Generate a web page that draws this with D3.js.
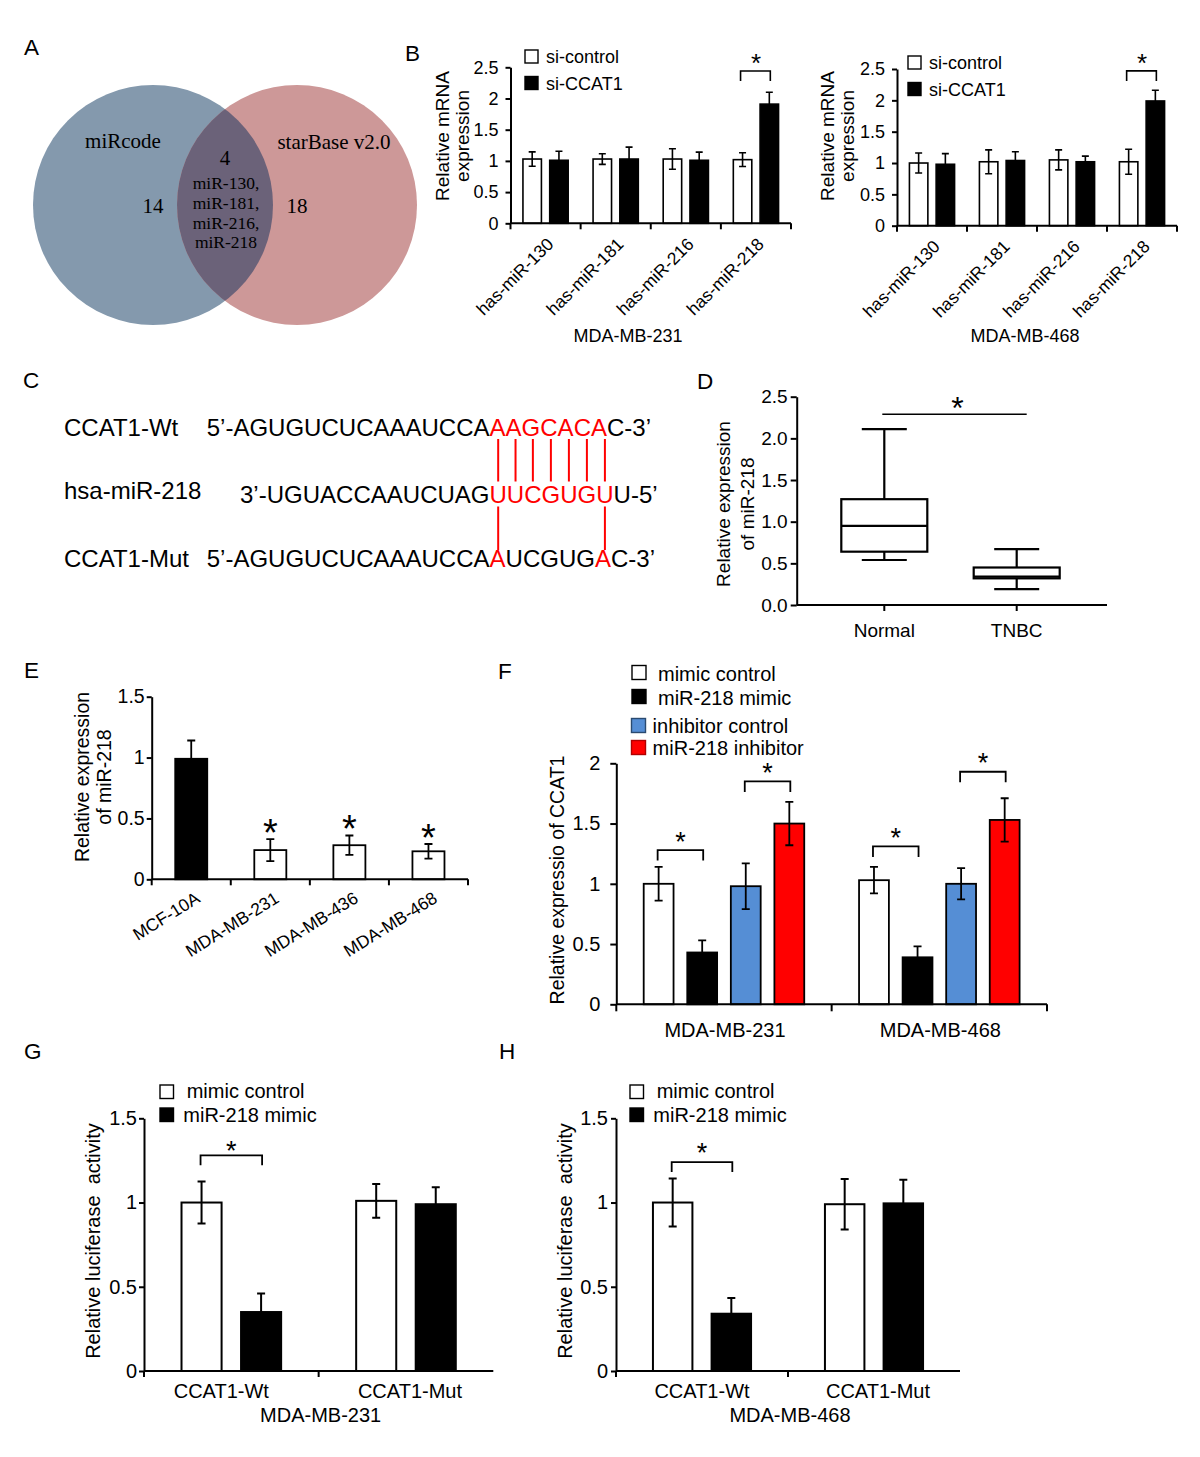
<!DOCTYPE html>
<html><head><meta charset="utf-8">
<script src="https://cdnjs.cloudflare.com/ajax/libs/d3/7.8.5/d3.min.js"></script>
<style>
html,body{margin:0;padding:0;background:#fff;}
svg text{fill:#000;}
</style></head><body>
<svg id="fig" width="1200" height="1457" xmlns="http://www.w3.org/2000/svg"></svg>
<script>
// ================= DATA =================
const panelLetters = ["A","B","C","D","E","F","G","H"];

// Panel A (Venn)
const vennSets = ["miRcode", "starBase v2.0"];
const vennOnly = [14, 18];
const vennShared = 4;
const vennSharedNames = ["miR-130,", "miR-181,", "miR-216,", "miR-218"];

// Panel B
const bCategories = ["has-miR-130", "has-miR-181", "has-miR-216", "has-miR-218"];
const bSeries = ["si-control", "si-CCAT1"];
const bTicks = [0, 0.5, 1, 1.5, 2, 2.5];
const b231Control = [1.03, 1.03, 1.03, 1.02];
const b231ControlErr = [0.115, 0.085, 0.165, 0.11];
const b231Si = [1.01, 1.03, 1.01, 1.91];
const b231SiErr = [0.145, 0.19, 0.13, 0.19];
const b468Control = [1.00, 1.02, 1.05, 1.02];
const b468ControlErr = [0.16, 0.19, 0.16, 0.20];
const b468Si = [0.98, 1.04, 1.02, 1.99];
const b468SiErr = [0.17, 0.14, 0.09, 0.17];
const bSigCategory = "has-miR-218";
const bBracketLevels = [2.44, 2.47];
const bCellLines = ["MDA-MB-231", "MDA-MB-468"];

// Panel C
const cRowLabels = ["CCAT1-Wt", "hsa-miR-218", "CCAT1-Mut"];
const cSequences = ["5’-AGUGUCUCAAAUCCAAAGCACAC-3’", "3’-UGUACCAAUCUAGUUCGUGUU-5’", "5’-AGUGUCUCAAAUCCAAUCGUGAC-3’"];
const cHighlight = [[18,19,20,21,22,23,24], [16,17,18,19,20,21,22], [18,24]];
const cPairsWt = [16,17,18,19,20,21,22];
const cPairsMut = [16,22];

// Panel D (box plot)
const dGroups = ["Normal", "TNBC"];
const dMin = [0.54, 0.19];
const dQ1 = [0.64, 0.32];
const dMedian = [0.95, 0.34];
const dQ3 = [1.27, 0.45];
const dMax = [2.11, 0.67];
const dTicks = [0, 0.5, 1, 1.5, 2, 2.5];
const dSigLevel = 2.29;

// Panel E
const eCells = ["MCF-10A", "MDA-MB-231", "MDA-MB-436", "MDA-MB-468"];
const eValues = [0.99, 0.24, 0.28, 0.23];
const eErr = [0.15, 0.09, 0.08, 0.06];
const eSignificant = [false, true, true, true];
const eTicks = [0, 0.5, 1, 1.5];

// Panel F
const fCells = ["MDA-MB-231", "MDA-MB-468"];
const fSeries = ["mimic control", "miR-218 mimic", "inhibitor control", "miR-218 inhibitor"];
const fValues231 = [1.00, 0.43, 0.98, 1.50];
const fErr231 = [0.14, 0.10, 0.19, 0.18];
const fValues468 = [1.03, 0.39, 1.00, 1.53];
const fErr468 = [0.11, 0.09, 0.13, 0.18];
const fBracketLevels231 = [1.28, 1.85];
const fBracketLevels468 = [1.31, 1.93];
const fTicks = [0, 0.5, 1, 1.5, 2];

// Panels G, H
const ghGroups = ["CCAT1-Wt", "CCAT1-Mut"];
const ghSeries = ["mimic control", "miR-218 mimic"];
const ghTicks = [0, 0.5, 1, 1.5];
const g231Control = [1.00, 1.01];
const g231ControlErr = [0.125, 0.10];
const g231Mimic = [0.35, 0.99];
const g231MimicErr = [0.11, 0.10];
const h468Control = [1.00, 0.99];
const h468ControlErr = [0.143, 0.15];
const h468Mimic = [0.34, 0.995];
const h468MimicErr = [0.093, 0.14];
const ghBracketLevels = [1.28, 1.24];

// ================= STYLE =================
const SANS = '"Liberation Sans", Arial, Helvetica, sans-serif';
const SERIF = '"Liberation Serif", "Times New Roman", serif';
const svg = d3.select("#fig");
svg.append("rect").attr("width", 1200).attr("height", 1457).attr("fill", "#fff");

// ================= HELPERS =================
function txt(g, x, y, s, fs, anchor, family) {
  return g.append("text").attr("x", x).attr("y", y).attr("font-size", fs)
    .attr("font-family", family || SANS).attr("text-anchor", anchor || "start").text(s);
}
function yAxis(g, y, x0, ticks, fmt, fs, size, pad) {
  const ax = d3.axisLeft(y).tickValues(ticks).tickFormat(fmt).tickSize(size).tickPadding(pad).tickSizeOuter(0);
  const a = g.append("g").attr("transform", `translate(${x0},0)`).call(ax);
  a.attr("font-family", SANS).attr("font-size", fs);
  a.select(".domain").attr("stroke", "#000").attr("stroke-width", 2);
  a.selectAll(".tick line").attr("stroke", "#000").attr("stroke-width", 2);
  a.selectAll(".tick text").attr("fill", "#000");
  return a;
}
function xBase(g, x0, x1, y0, tickXs, len) {
  g.append("line").attr("x1", x0).attr("x2", x1).attr("y1", y0).attr("y2", y0)
    .attr("stroke", "#000").attr("stroke-width", 2);
  g.selectAll(null).data(tickXs).enter().append("line")
    .attr("x1", d => d).attr("x2", d => d).attr("y1", y0).attr("y2", y0 + len)
    .attr("stroke", "#000").attr("stroke-width", 2);
}
function errBars(g, data, xc, y, cap, sw) {
  const e = g.append("g").attr("stroke", "#000").attr("stroke-width", sw).attr("fill", "none");
  e.selectAll(null).data(data).enter().append("path")
    .attr("d", d => {
      const cx = xc(d), hi = y(d.v + d.e), lo = y(d.v - d.e);
      return `M${cx},${lo}V${hi}M${cx - cap},${hi}H${cx + cap}M${cx - cap},${lo}H${cx + cap}`;
    });
}
function star(g, cx, cy, fs) {
  g.append("text").attr("x", cx).attr("y", cy + 0.575 * fs).attr("text-anchor", "middle")
    .attr("font-family", SANS).attr("font-size", fs).text("*");
}
function bracket(g, xa, xb, yTop, leg, sw) {
  g.append("path").attr("d", `M${xa},${yTop + leg}V${yTop}H${xb}V${yTop + leg}`)
    .attr("fill", "none").attr("stroke", "#000").attr("stroke-width", sw);
}
function vTitle(g, cx, cy, lines, fs, gap) {
  const t = g.append("text").attr("transform", `translate(${cx},${cy}) rotate(-90)`)
    .attr("font-family", SANS).attr("font-size", fs).attr("text-anchor", "middle").style("white-space", "pre");
  lines.forEach((l, i) => t.append("tspan").attr("x", 0).attr("y", i * gap).attr("dy", "0.35em").text(l));
}

// ================= PANEL LETTERS =================
const letterPos = [[24, 55], [405, 61], [23, 388], [697, 389], [24, 678], [498, 679], [24, 1059], [499, 1059]];
panelLetters.forEach((L, i) => txt(svg, letterPos[i][0], letterPos[i][1], L, 22.5));

// ================= PANEL A =================
(function () {
  const g = svg.append("g");
  const R = 120, cy = 205, c1 = 153, c2 = 297;
  g.append("defs").append("clipPath").attr("id", "clipBlue")
    .append("circle").attr("cx", c1).attr("cy", cy).attr("r", R);
  g.append("circle").attr("cx", c1).attr("cy", cy).attr("r", R).attr("fill", "#8499ad");
  g.append("circle").attr("cx", c2).attr("cy", cy).attr("r", R).attr("fill", "#cd9898");
  g.append("circle").attr("cx", c2).attr("cy", cy).attr("r", R).attr("fill", "#6b6279").attr("clip-path", "url(#clipBlue)");
  const mid = (c1 + c2) / 2;
  txt(g, c1 - 30, 148, vennSets[0], 21, "middle", SERIF);
  txt(g, c2 + 37, 149, vennSets[1], 21, "middle", SERIF);
  txt(g, c1, 213, String(vennOnly[0]), 21, "middle", SERIF);
  txt(g, c2, 213, String(vennOnly[1]), 21, "middle", SERIF);
  txt(g, mid, 165, String(vennShared), 21, "middle", SERIF);
  vennSharedNames.forEach((n, i) => txt(g, mid + 1, 189 + i * 19.8, n, 17.5, "middle", SERIF));
})();

// ================= PANEL B =================
function drawB(cfg) {
  const g = svg.append("g");
  const x = d3.scaleBand().domain(bCategories).range([cfg.x0, cfg.x1]);
  const xi = d3.scaleBand().domain(bSeries).range([0, x.bandwidth()]).paddingInner(0.31).paddingOuter(0.465);
  const y = d3.scaleLinear().domain([0, 2.5]).range([cfg.y0, cfg.yTop]);
  const rows = bCategories.flatMap((c, i) => [
    { c, s: bSeries[0], v: cfg.ctrl[i], e: cfg.ctrlErr[i] },
    { c, s: bSeries[1], v: cfg.si[i], e: cfg.siErr[i] }]);
  const xc = d => x(d.c) + xi(d.s) + xi.bandwidth() / 2;
  g.selectAll(null).data(rows).enter().append("rect")
    .attr("x", d => x(d.c) + xi(d.s)).attr("y", d => y(d.v))
    .attr("width", xi.bandwidth()).attr("height", d => y(0) - y(d.v))
    .attr("fill", d => d.s === bSeries[0] ? "#fff" : "#000").attr("stroke", "#000").attr("stroke-width", 1.6);
  errBars(g, rows, xc, y, 3.5, 1.6);
  yAxis(g, y, cfg.x0, bTicks, d3.format("~g"), 18, 5, 7);
  xBase(g, cfg.x0, cfg.x1, cfg.y0, bCategories.map(c => x(c)).concat([cfg.x1]), 6);
  bCategories.forEach(c => {
    g.append("text").attr("transform", `translate(${x(c) + x.bandwidth() / 2 + 9},${cfg.y0 + 22}) rotate(-45)`)
      .attr("text-anchor", "end").attr("font-family", SANS).attr("font-size", 17.5).text(c);
  });
  // legend
  bSeries.forEach((s, i) => {
    g.append("rect").attr("x", cfg.lx).attr("y", cfg.ly + i * 26.5).attr("width", 13).attr("height", 13)
      .attr("fill", i === 0 ? "#fff" : "#000").attr("stroke", "#000").attr("stroke-width", 1.4);
    txt(g, cfg.lx + 21, cfg.ly + 13 + i * 26.5, s, 18);
  });
  // significance
  const sig = rows.filter(d => d.c === bSigCategory);
  const top = y(cfg.bracket);
  bracket(g, xc(sig[0]) - 2, xc(sig[1]) + 1, top, 10, 1.6);
  star(g, (xc(sig[0]) + xc(sig[1])) / 2, top - 13.5, 26);
  vTitle(g, cfg.tx, 136, ["Relative mRNA", "expression"], 19, 20);
  txt(g, cfg.cellX, 342, cfg.cell, 18, "middle");
}
drawB({ x0: 510.5, x1: 791, y0: 223.3, yTop: 67.3, ctrl: b231Control, ctrlErr: b231ControlErr, si: b231Si, siErr: b231SiErr,
  bracket: bBracketLevels[0], lx: 525, ly: 50, tx: 442, cell: bCellLines[0], cellX: 628 });
drawB({ x0: 897, x1: 1177, y0: 225.7, yTop: 69, ctrl: b468Control, ctrlErr: b468ControlErr, si: b468Si, siErr: b468SiErr,
  bracket: bBracketLevels[1], lx: 908, ly: 56, tx: 827, cell: bCellLines[1], cellX: 1025 });

// ================= PANEL C =================
(function () {
  const g = svg.append("g");
  const fs = 24;
  const labelBase = [435.7, 499, 566.5];
  const seqBase = [435.7, 503, 567];
  const seqX = [206.7, 240, 206.7];
  const nodes = [];
  cRowLabels.forEach((l, i) => txt(g, 64, labelBase[i], l, fs));
  cSequences.forEach((s, i) => {
    const t = g.append("text").attr("x", seqX[i]).attr("y", seqBase[i]).attr("font-family", SANS).attr("font-size", fs);
    Array.from(s).forEach((ch, k) => t.append("tspan").attr("fill", cHighlight[i].includes(k) ? "#ff0000" : "#000").text(ch));
    nodes.push(t.node());
  });
  const center = (node, k) => (node.getStartPositionOfChar(k).x + node.getEndPositionOfChar(k).x) / 2;
  cPairsWt.forEach(k => {
    const cx = center(nodes[1], k);
    g.append("line").attr("x1", cx).attr("x2", cx).attr("y1", 439).attr("y2", 481.5).attr("stroke", "#ff0000").attr("stroke-width", 2);
  });
  cPairsMut.forEach(k => {
    const cx = center(nodes[1], k);
    g.append("line").attr("x1", cx).attr("x2", cx).attr("y1", 506.5).attr("y2", 550).attr("stroke", "#ff0000").attr("stroke-width", 2);
  });
})();

// ================= PANEL D =================
(function () {
  const g = svg.append("g");
  const x0 = 796.7, x1 = 1107, y0 = 605;
  const y = d3.scaleLinear().domain([0, 2.5]).range([y0, 396.7]);
  const x = d3.scalePoint().domain(dGroups).range([884.3, 1016.7]);
  const boxes = dGroups.map((gname, i) => ({ g: gname, min: dMin[i], q1: dQ1[i], med: dMedian[i], q3: dQ3[i], max: dMax[i] }));
  const bw = 86, cw = 45;
  const b = g.append("g").attr("stroke", "#000").attr("stroke-width", 2.2).attr("fill", "none");
  boxes.forEach(d => {
    const cx = x(d.g);
    b.append("path").attr("d", `M${cx},${y(d.q3)}V${y(d.max)}M${cx - cw / 2},${y(d.max)}H${cx + cw / 2}` +
      `M${cx},${y(d.q1)}V${y(d.min)}M${cx - cw / 2},${y(d.min)}H${cx + cw / 2}`);
    b.append("rect").attr("x", cx - bw / 2).attr("y", y(d.q3)).attr("width", bw).attr("height", y(d.q1) - y(d.q3)).attr("fill", "#fff");
    b.append("line").attr("x1", cx - bw / 2).attr("x2", cx + bw / 2).attr("y1", y(d.med)).attr("y2", y(d.med));
  });
  yAxis(g, y, x0, dTicks, d3.format(".1f"), 19, 6, 3);
  xBase(g, x0, x1, y0, dGroups.map(d => x(d)), 6);
  dGroups.forEach(d => txt(g, x(d), 637, d, 19, "middle"));
  const sy = y(dSigLevel);
  const xa = x(dGroups[0]) - 2, xb = x(dGroups[1]) + 10;
  g.append("line").attr("x1", xa).attr("x2", xb).attr("y1", sy).attr("y2", sy).attr("stroke", "#000").attr("stroke-width", 1.6);
  star(g, (xa + xb) / 2 + 3, sy - 14, 32);
  vTitle(g, 723, 504, ["Relative expression", "of miR-218"], 19, 24);
})();

// ================= PANEL E =================
(function () {
  const g = svg.append("g");
  const x0 = 151.7, x1 = 468, y0 = 879.3;
  const x = d3.scaleBand().domain(eCells).range([x0, x1]).paddingInner(0.595).paddingOuter(0.2975);
  const band = d3.scaleBand().domain(eCells).range([x0, x1]);
  const y = d3.scaleLinear().domain([0, 1.5]).range([y0, 696.7]);
  const rows = eCells.map((c, i) => ({ c, v: eValues[i], e: eErr[i], sig: eSignificant[i] }));
  const xc = d => x(d.c) + x.bandwidth() / 2;
  g.selectAll(null).data(rows).enter().append("rect")
    .attr("x", d => x(d.c)).attr("y", d => y(d.v)).attr("width", x.bandwidth()).attr("height", d => y(0) - y(d.v))
    .attr("fill", (d, i) => i === 0 ? "#000" : "#fff").attr("stroke", "#000").attr("stroke-width", 1.8);
  errBars(g, rows, xc, y, 4, 1.8);
  yAxis(g, y, x0, eTicks, d3.format("~g"), 19.5, 5, 2);
  xBase(g, x0, x1, y0, eCells.map(c => band(c)).concat([x1]), 6);
  eCells.forEach(c => {
    g.append("text").attr("transform", `translate(${band(c) + band.bandwidth() / 2 + 10},${y0 + 22}) rotate(-32)`)
      .attr("text-anchor", "end").attr("font-family", SANS).attr("font-size", 17.5).text(c);
  });
  rows.filter(d => d.sig).forEach(d => star(g, xc(d), y(d.v + d.e) - 15, 38));
  vTitle(g, 81.7, 777, ["Relative expression", "of miR-218"], 19.5, 22);
})();

// ================= PANEL F =================
(function () {
  const g = svg.append("g");
  const x0 = 616.3, x1 = 1047, y0 = 1004.3;
  const colors = ["#ffffff", "#000000", "#558ed5", "#ff0000"];
  const x = d3.scaleBand().domain(fCells).range([x0, x1]);
  const xi = d3.scaleBand().domain(fSeries).range([0, x.bandwidth()]).paddingInner(0.315).paddingOuter(0.629);
  const y = d3.scaleLinear().domain([0, 2]).range([y0, 763.3]);
  const vals = [fValues231, fValues468], errs = [fErr231, fErr468], lev = [fBracketLevels231, fBracketLevels468];
  const rows = fCells.flatMap((c, gi) => fSeries.map((s, si) => ({ c, s, si, v: vals[gi][si], e: errs[gi][si] })));
  const xc = d => x(d.c) + xi(d.s) + xi.bandwidth() / 2;
  g.selectAll(null).data(rows).enter().append("rect")
    .attr("x", d => x(d.c) + xi(d.s)).attr("y", d => y(d.v)).attr("width", xi.bandwidth()).attr("height", d => y(0) - y(d.v))
    .attr("fill", d => colors[d.si]).attr("stroke", "#000").attr("stroke-width", 1.8);
  errBars(g, rows, xc, y, 4, 1.8);
  yAxis(g, y, x0, fTicks, d3.format("~g"), 20, 6, 10);
  xBase(g, x0, x1, y0, [x0, x(fCells[1]), x1], 7);
  fCells.forEach(c => txt(g, x(c) + x.bandwidth() / 2 + 1, 1037, c, 20, "middle"));
  // brackets
  fCells.forEach((c, gi) => {
    [[0, 1], [2, 3]].forEach((p, pi) => {
      const a = rows.find(d => d.c === c && d.si === p[0]), b = rows.find(d => d.c === c && d.si === p[1]);
      const top = y(lev[gi][pi]);
      bracket(g, xc(a) - 1, xc(b) + 1, top, 10.5, 1.8);
      star(g, (xc(a) + xc(b)) / 2, top - 15, 27);
    });
  });
  // legend
  const ly = [665.5, 689.5, 718.5, 740.5];
  const lx = [632, 632, 631.5, 631.5];
  const tx = [658, 658, 652.6, 652.6];
  const tb = [681, 704.5, 733.3, 755.3];
  fSeries.forEach((s, i) => {
    g.append("rect").attr("x", lx[i]).attr("y", ly[i]).attr("width", 14).attr("height", 14)
      .attr("fill", colors[i]).attr("stroke", i === 2 ? "#2a4a70" : (i === 3 ? "#b00000" : "#000")).attr("stroke-width", 1.4);
    txt(g, tx[i], tb[i], s, 20);
  });
  vTitle(g, 557, 880, ["Relative expressio of CCAT1"], 19.5, 0);
})();

// ================= PANELS G & H =================
function drawGH(cfg) {
  const g = svg.append("g");
  const x = d3.scaleBand().domain(ghGroups).range([cfg.x0, cfg.x1]);
  const xi = d3.scaleBand().domain(ghSeries).range([0, x.bandwidth()]).paddingInner(0.327).paddingOuter(0.63);
  const y = d3.scaleLinear().domain([0, 1.5]).range([cfg.y0, cfg.yTop]);
  const rows = ghGroups.flatMap((c, i) => [
    { c, s: ghSeries[0], v: cfg.ctrl[i], e: cfg.ctrlErr[i] },
    { c, s: ghSeries[1], v: cfg.mim[i], e: cfg.mimErr[i] }]);
  const xc = d => x(d.c) + xi(d.s) + xi.bandwidth() / 2;
  g.selectAll(null).data(rows).enter().append("rect")
    .attr("x", d => x(d.c) + xi(d.s)).attr("y", d => y(d.v)).attr("width", xi.bandwidth()).attr("height", d => y(0) - y(d.v))
    .attr("fill", d => d.s === ghSeries[0] ? "#fff" : "#000").attr("stroke", "#000").attr("stroke-width", 2);
  errBars(g, rows, xc, y, 4, 2);
  yAxis(g, y, cfg.x0, ghTicks, d3.format("~g"), 20, 5, cfg.pad);
  xBase(g, cfg.x0, cfg.x1, cfg.y0, [cfg.x0, x(ghGroups[1])], 6);
  ghGroups.forEach((c, i) => txt(g, x(c) + x.bandwidth() / 2 + cfg.labOff[i], 1398, c, 20, "middle"));
  txt(g, (cfg.x0 + cfg.x1) / 2 + 2, 1422, cfg.cell, 20, "middle");
  const a = rows[0], b = rows[1];
  const top = y(cfg.bracket);
  bracket(g, xc(a) - 1, xc(b) + 1, top, 10, 1.8);
  star(g, (xc(a) + xc(b)) / 2, top - cfg.starGap, 27);
  ghSeries.forEach((s, i) => {
    g.append("rect").attr("x", cfg.lx).attr("y", 1085 + i * 23).attr("width", 13.5).attr("height", 13.5)
      .attr("fill", i === 0 ? "#fff" : "#000").attr("stroke", "#000").attr("stroke-width", 1.4);
    txt(g, cfg.lx + (i === 0 ? 26.7 : 23.3), 1097.5 + i * 24.2, s, 20);
  });
  vTitle(g, cfg.tx, 1241, ["Relative luciferase  activity"], 20, 0);
}
drawGH({ x0: 144, x1: 493.3, y0: 1371, yTop: 1118.3, ctrl: g231Control, ctrlErr: g231ControlErr, mim: g231Mimic, mimErr: g231MimicErr,
  bracket: ghBracketLevels[0], starGap: 11, lx: 160, tx: 93.3, pad: 2, cell: "MDA-MB-231", labOff: [-10, 4] });
drawGH({ x0: 616, x1: 960, y0: 1371, yTop: 1118.3, ctrl: h468Control, ctrlErr: h468ControlErr, mim: h468Mimic, mimErr: h468MimicErr,
  bracket: ghBracketLevels[1], starGap: 15.5, lx: 630, tx: 565, pad: 3, cell: "MDA-MB-468", labOff: [0, 4] });
</script>
</body></html>
